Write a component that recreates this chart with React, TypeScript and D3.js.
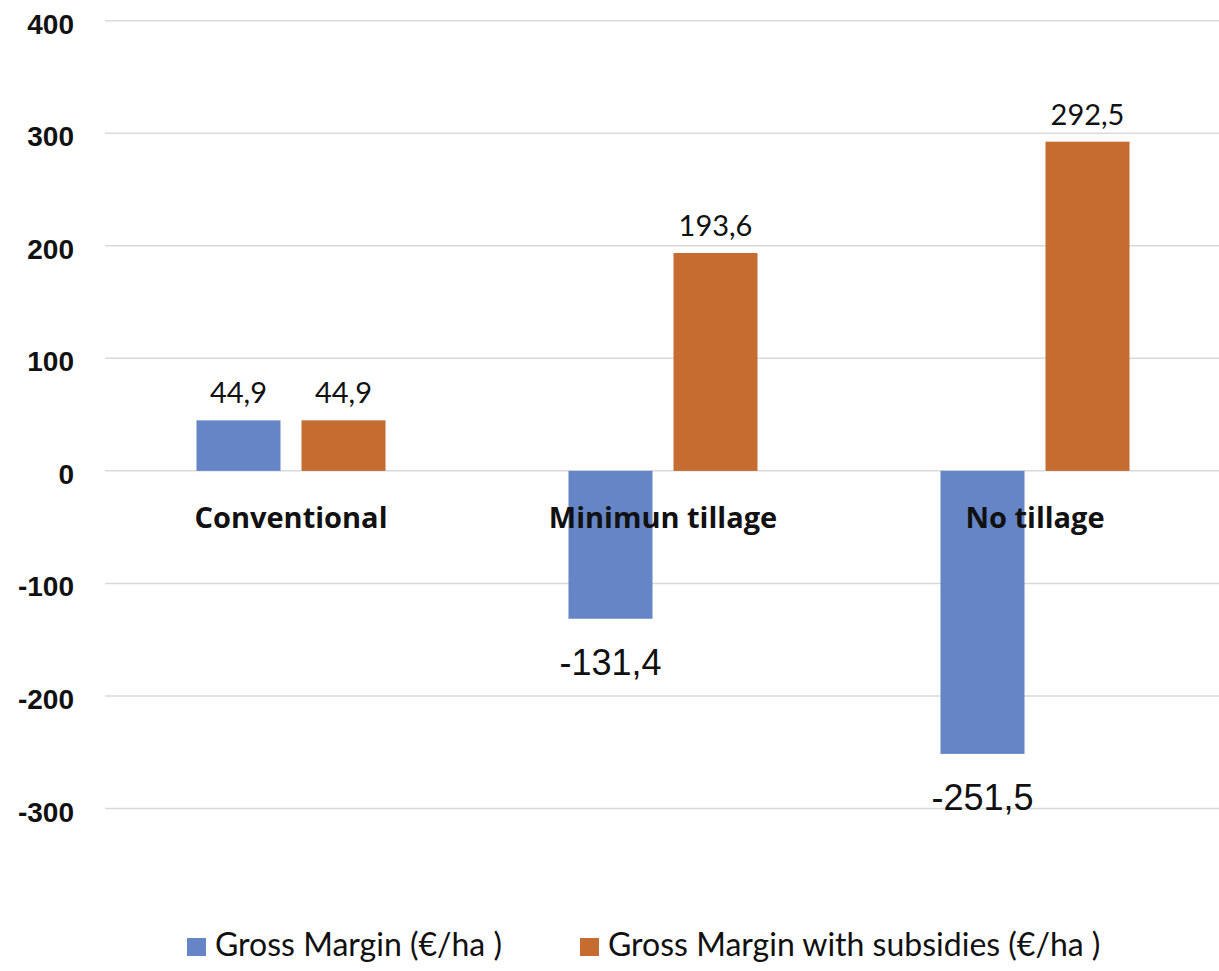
import React, { useRef, useEffect } from "react";
import * as d3 from "d3";

const categories = ["Conventional", "Minimun tillage", "No tillage"];
const seriesNames = ["Gross Margin (€/ha )", "Gross Margin with subsidies (€/ha )"];
const grossMargin = [44.9, -131.4, -251.5];
const grossMarginSubsidies = [44.9, 193.6, 292.5];
const yTicks = [400, 300, 200, 100, 0, -100, -200, -300];

const colors = ["#6585C7", "#C56C30"];

export default function App() {
    const ref = useRef<SVGSVGElement | null>(null);

    useEffect(() => {
        if (!ref.current) return;
        const svg = d3.select(ref.current);
        svg.selectAll("*").remove();

        const width = 1219;
        const plotLeft = 105;
        const step = 372;

        const x0 = d3.scaleBand<string>()
            .domain(categories)
            .range([plotLeft, plotLeft + step * categories.length]);
        const x1 = d3.scaleBand<string>()
            .domain(seriesNames)
            .range([0, x0.bandwidth()])
            .paddingInner(0.2)
            .paddingOuter(0.871);
        const y = d3.scaleLinear().domain([-300, 400]).range([808.5, 20.7]);

        const fmt = (v: number) => v.toFixed(1).replace(".", ",");

        // gridlines + tick labels
        const grid = svg.append("g");
        yTicks.forEach(t => {
            grid.append("line")
                .attr("x1", plotLeft).attr("x2", width)
                .attr("y1", y(t)).attr("y2", y(t))
                .attr("stroke", "#d9d9d9").attr("stroke-width", 1.5);
            grid.append("text")
                .attr("x", 74).attr("y", y(t) + 13)
                .attr("text-anchor", "end")
                .style("font-family", "'Liberation Sans', Arial, sans-serif")
                .style("font-weight", "bold")
                .style("font-size", "28px")
                .attr("fill", "#111")
                .text(t);
        });

        const rows = categories.map((c, i) => ({
            cat: c,
            values: [grossMargin[i], grossMarginSubsidies[i]],
        }));

        // bars
        const groups = svg.append("g").selectAll("g").data(rows).join("g")
            .attr("transform", d => `translate(${x0(d.cat)},0)`);

        groups.selectAll("rect")
            .data(d => d.values.map((v, k) => ({ v, k })))
            .join("rect")
            .attr("x", d => x1(seriesNames[d.k])!)
            .attr("width", x1.bandwidth())
            .attr("y", d => y(Math.max(0, d.v)))
            .attr("height", d => Math.abs(y(d.v) - y(0)))
            .attr("fill", d => colors[d.k]);

        // category labels (drawn over bars)
        svg.append("g").selectAll("text").data(categories).join("text")
            .attr("x", d => x0(d)! + x0.bandwidth() / 2)
            .attr("y", 528)
            .attr("text-anchor", "middle")
            .style("font-family", "'Open Sans', sans-serif")
            .style("font-weight", "bold")
            .style("font-size", "29px")
            .attr("fill", "#111")
            .text(d => d);

        // value labels
        groups.selectAll("text.val")
            .data(d => d.values.map((v, k) => ({ v, k })))
            .join("text")
            .attr("class", "val")
            .attr("x", d => x1(seriesNames[d.k])! + x1.bandwidth() / 2)
            .attr("y", d => d.v >= 0 ? y(d.v) - 17 : y(d.v) + 56)
            .attr("text-anchor", "middle")
            .style("font-family", d => d.v >= 0 ? "Lato, sans-serif" : "'Liberation Sans', Arial, sans-serif")
            .style("font-size", d => d.v >= 0 ? "29px" : "36px")
            .attr("fill", "#111")
            .text(d => fmt(d.v));

        // legend
        const legendX = [187, 580];
        const legend = svg.append("g");
        seriesNames.forEach((s, k) => {
            legend.append("rect")
                .attr("x", legendX[k]).attr("y", 938)
                .attr("width", 19).attr("height", 18)
                .attr("fill", colors[k]);
            legend.append("text")
                .attr("x", legendX[k] + 28).attr("y", 956)
                .style("font-family", "Lato, sans-serif")
                .style("font-size", "32px")
                .attr("fill", "#111")
                .text(s);
        });
    }, []);

    return (
        <svg
            ref={ref}
            width={1219}
            height={971}
            style={{ position: "absolute", left: 0, top: 0, background: "#fff" }}
        />
    );
}
